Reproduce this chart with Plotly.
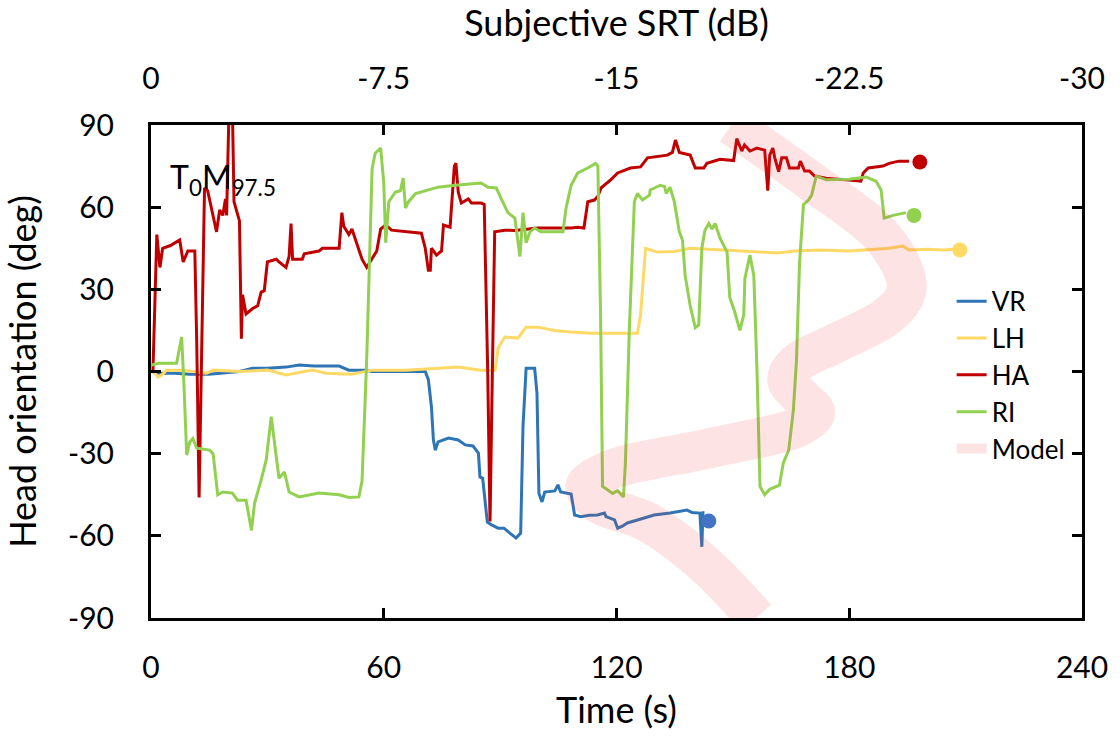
import plotly.graph_objects as go

# ---------------- data ----------------
vr_t = [0.3, 2, 6, 10, 15, 20, 22.8, 26.2, 30, 34.8, 38.2, 42, 48.5, 51, 55, 57, 65.6, 70.7, 71.5, 72.3, 72.8, 73.3, 74,
        76.7, 79.2, 81, 83, 84.4, 84.8, 85.5, 86.7, 87.8, 89.5, 91, 92.5, 94.1, 95.3, 95.9, 96.7, 98.9, 99.5, 100, 100.8,
        101.5, 104.1, 104.9, 105.6, 108.3, 109.2, 110.8, 113, 115.1, 116.9, 117.3, 119.5, 120.3, 121.5, 122.8, 125.4,
        129.7, 133.8, 138.2, 139.5, 141.5, 142, 142.3]
vr_a = [0, -0.6, -0.6, -1, -1, -0.5, 0, 1.2, 1.2, 1.6, 2.4, 2, 2, 0.5, 0.5, 0, 0, 0, -3, -13, -25, -28.7, -25.7,
        -24.3, -25, -26.8, -27.2, -29.8, -38.5, -39, -55, -56, -57.2, -57.2, -59, -60.8, -59, -20, 1.2, 1.2, -8, -44.5, -47.6,
        -44, -43.6, -41.4, -44, -44.7, -52.4, -53, -52.5, -52.4, -51.7, -53, -54.2, -57.2, -56.5, -55.3, -54.2,
        -52.4, -51.7, -50.6, -51.5, -51.7, -64, -51]

lh_t = [0.3, 1.8, 3, 4, 8.2, 14.3, 16, 22.8, 30, 34.8, 41.6, 45.1, 51.8, 57, 65.6, 74, 79.2, 85, 88.7, 89.5, 91.2,
        94.6, 96.7, 99.7, 104, 108.3, 113.4, 120.3, 125.4, 126.2, 127.5, 130.5, 135, 139, 146.7, 152, 156.2, 161.3,
        166, 172.3, 180, 186, 190.3, 193.8, 195.4, 200, 204, 207]
lh_a = [0.5, -2, -1, 0.5, 0.5, -0.6, 0.5, 0, 0.5, -1.3, 0.5, -0.6, -1, 0.5, 0.5, 1.2, 1.6, 0.5, 0.5, 8.6, 12.6,
        12.2, 16.2, 16.2, 15, 14.4, 14, 14, 14, 20.6, 45, 43.6, 43.8, 45, 44.4, 43.8, 43.6, 43.3,
        44, 44.4, 44, 44.6, 45, 45.8, 44.4, 44.6, 44.4, 44.6]

ha_t = [0.5, 1.5, 2.3, 3, 5, 7.4, 8.3, 9.5, 11.3, 11.8, 12.4, 13.1, 13.8, 14.6, 16.9, 17.7, 18.5, 19.2, 19.5, 20.1,
        21.0, 21.4, 22.8, 23.3, 23.6, 24.5, 26.2, 27.5, 28.4, 29.2, 30, 32.3, 33, 34.8, 35.6, 36.1, 36.5, 39, 39.5,
        43.3, 44.2, 48.5, 49.2, 49.7, 51, 51.8, 52.8, 54.4, 55.6, 57, 58.2, 59.2, 60.5, 62, 65.6, 69.7, 70.7, 71.5,
        72, 72.3, 73.6, 74.9, 75.4, 77.1, 78.2, 78.6, 79.2, 80, 81.8, 82.6, 85.1, 85.9, 86.8, 87.4, 88.0, 88.6, 91.2,
        93.8, 99.7, 108.3, 110, 111.6, 112.6, 114.3, 115.2, 116, 118.5, 120.3, 123.6, 126.2, 128, 129.7, 133.1,
        134.4, 135.2, 136.2, 139, 140.3, 142.5, 143.3, 146.7, 150.2, 151, 152.3, 153, 154.4, 156.2, 158.2, 159,
        159.5, 160.3, 160.8, 161.8, 162.6, 163.8, 164.6, 166.9, 167.4, 168.5, 169.7, 171, 174, 178.4, 183, 183.6,
        184.9, 188.7, 190.3, 192.8, 195.4]
ha_a = [0, 50, 38, 45, 46, 48, 40, 44, 44, 10, -46, 10, 67, 66, 51, 59, 57, 63, 57, 95,
        95, 62, 55, 12, 28, 21, 23, 24, 29, 29.5, 40, 41, 40, 38, 42, 54, 41, 41, 43,
        44, 45, 45, 58, 53, 50, 52, 48, 41, 38, 41, 44, 52, 53.5, 51.6, 51, 50.5, 45, 37,
        37, 45, 42.5, 44, 53.5, 52.7, 75, 76, 65.5, 61.5, 63, 61.5, 61.5, 61, 0, -54.8, 0, 51, 51.6,
        51.5, 52.4, 52.4, 52.7, 52.4, 62, 62.6, 64, 67, 70, 72.5, 74.3, 74.7, 78, 78.3, 79,
        80, 84.5, 80, 79, 74.3, 74.3, 76, 77.5, 77, 85, 80.5, 82.7, 80.5, 81.6, 80.8, 66,
        79, 81.6, 78, 73, 78, 78, 74.3, 74.3, 76.8, 73.2, 73.2, 71.4, 70.6, 70, 69.5, 72.5,
        74.3, 75, 76, 76.8, 76.8]

ri_t = [0.2, 2, 6.6, 7.9, 8.5, 9.2, 10, 10.8, 11.8, 15.1, 16, 17.2, 18.5, 21, 22.3, 24.5, 25.9, 26.7, 28.4, 29.7,
        31, 32.3, 33, 34.4, 35.6, 38.2, 43.3, 48.5, 51, 53.6, 54.4, 55.6, 56.2, 57, 57.8, 59.2, 60, 60.5, 61.3, 63,
        64.3, 65, 65.6, 66.4, 68.2, 70.7, 74, 78.4, 85.1, 86.9, 89, 90.3, 92, 93.8, 95.1, 95.9, 96.7, 97.7, 98.9,
        100.5, 106.2, 107, 108.3, 110, 112.6, 114.6, 115.2, 115.9, 116.4, 117.5, 119, 120.3, 121.8, 122.3, 123.3,
        124.6, 125.4, 126.7, 128.5, 128.7, 131.3, 132.4, 132.8, 133.8, 134.9, 136.2, 137, 137.7, 139, 140.3, 141.2,
        142, 142.8, 143.8, 144.6, 145.4, 146.7, 148.5, 149.2, 150.5, 151.8, 152.8, 153.1, 154.4, 155.4, 156.2, 157,
        158.2, 159.5, 162, 163, 164.4, 165.6, 166.4, 167.2, 168.2, 169.5, 170.3, 171.5, 174, 180, 184.4, 186.9,
        188.2, 189, 191.3, 194.6]
ri_a = [2.4, 3, 3, 12.6, -5, -30.5, -25.7, -24.5, -28, -28.7, -30, -45, -44, -44.4, -47, -47, -58, -48, -39.6, -32.3,
        -16.5, -31, -39, -36.7, -44, -45.8, -44.4, -45, -46, -45.8, -40, 4.2, 36, 74, 79.7, 81.6, 69, 47, 62, 65.5,
        66, 70.6, 59.7, 62, 65, 66, 67.3, 68, 68.8, 67.3, 67, 63, 58, 56, 42, 58, 47, 51, 52.4,
        51, 51, 59.7, 68, 72.5, 74.3, 76, 75, 20, -42, -43, -44.5, -43.5, -45.8, -33.4, 15,
        62, 65, 62.6, 64.4, 66.3, 68, 67.5, 65, 67.3, 62, 51, 48, 35, 24, 16, 17,
        45, 51.6, 54, 52, 54, 48.7, 43.6, 27, 21.7, 15, 20.6, 34, 42.5, 35, 1, -42,
        -45, -43, -41.5, -33.4, -28.7, -14, 4.2, 40, 61, 62.6, 64.4, 71.4, 70, 70.2, 71, 69.5,
        66.3, 56, 57, 58]

end_t = [143.8, 208.5, 198.2, 196.7]
end_a = [-54.6, 44.4, 76.5, 57.0]

model_angle = [90, 70, 50, 35, 28, 20, 10, 3, -3, -10, -15, -20, -28, -36, -42, -48, -55, -70, -90]
model_srt = [-18.7, -21.2, -23.5, -24.3, -24.3, -23.7, -22.0, -20.8, -20.5, -21.0, -21.4, -20.9, -18.0, -14.8,
             -14.0, -14.4, -16.0, -17.8, -19.5]

time_ticks = [0, 60, 120, 180, 240]
srt_ticks = [0, -7.5, -15, -22.5, -30]
srt_labels = ["0", "-7.5", "-15", "-22.5", "-30"]
angle_ticks = [-90, -60, -30, 0, 30, 60, 90]
angle_labels = ["-90", "-60", "-30", "0", "30", "60", "90"]

names = ["VR", "LH", "HA", "RI"]
colors = ["#2E75B6", "#FFD966", "#C00000", "#92D050"]
marker_colors = ["#4472C4", "#FFD966", "#C00000", "#92D050"]

FONT = "Lato"

fig = go.Figure()
for name, tt, aa, c in zip(names, [vr_t, lh_t, ha_t, ri_t], [vr_a, lh_a, ha_a, ri_a], colors):
    fig.add_trace(go.Scatter(x=tt, y=aa, mode="lines", name=name,
                             line=dict(color=c, width=3)))
fig.add_trace(go.Scatter(x=end_t, y=end_a, mode="markers", showlegend=False,
                         marker=dict(color=marker_colors, size=15)))
fig.add_trace(go.Scatter(x=[None], y=[None], mode="lines", name="Model",
                         line=dict(color="rgb(252,228,228)", width=10)))
fig.add_trace(go.Scatter(x=model_srt, y=model_angle, xaxis="x2", mode="lines", showlegend=False,
                         line=dict(color="rgba(240,60,60,0.14)", width=40, shape="spline", smoothing=1)))

axis_common = dict(showgrid=False, zeroline=False, showline=True, linecolor="black", linewidth=3,
                   ticks="inside", ticklen=10, tickwidth=3, tickcolor="black",
                   tickfont=dict(family=FONT, size=30, color="black"))

fig.update_layout(
    width=1120, height=736,
    margin=dict(l=151, r=33, t=125, b=118),
    paper_bgcolor="white", plot_bgcolor="white",
    font=dict(family=FONT, size=30, color="black"),
    xaxis=dict(range=[0, 240], tickvals=time_ticks, mirror=True, ticklabelstandoff=21,
               title=dict(text="Time (s)", font=dict(family=FONT, size=36), standoff=15), **axis_common),
    xaxis2=dict(range=[0, -30], tickvals=srt_ticks, ticktext=srt_labels, overlaying="x", side="top",
                anchor="y", ticklabelstandoff=21,
                title=dict(text="Subjective SRT (dB)", font=dict(family=FONT, size=36), standoff=21), **axis_common),
    yaxis=dict(range=[-90, 90], tickvals=angle_ticks, ticktext=angle_labels, mirror="ticks", ticklabelstandoff=28,
               title=dict(text="Head orientation (deg)", font=dict(family=FONT, size=36), standoff=23), **axis_common),
    legend=dict(x=0.86, y=0.69, xanchor="left", yanchor="top", bgcolor="rgba(0,0,0,0)",
                font=dict(family=FONT, size=26, color="black"), itemwidth=30),
    showlegend=True,
)
fig.add_annotation(xref="paper", yref="paper", x=0.018, y=0.94, xanchor="left", yanchor="top",
                   text="T<sub>0</sub>M<sub>97.5</sub>", showarrow=False,
                   font=dict(family=FONT, size=32, color="black"))

fig.write_html("out.html")
